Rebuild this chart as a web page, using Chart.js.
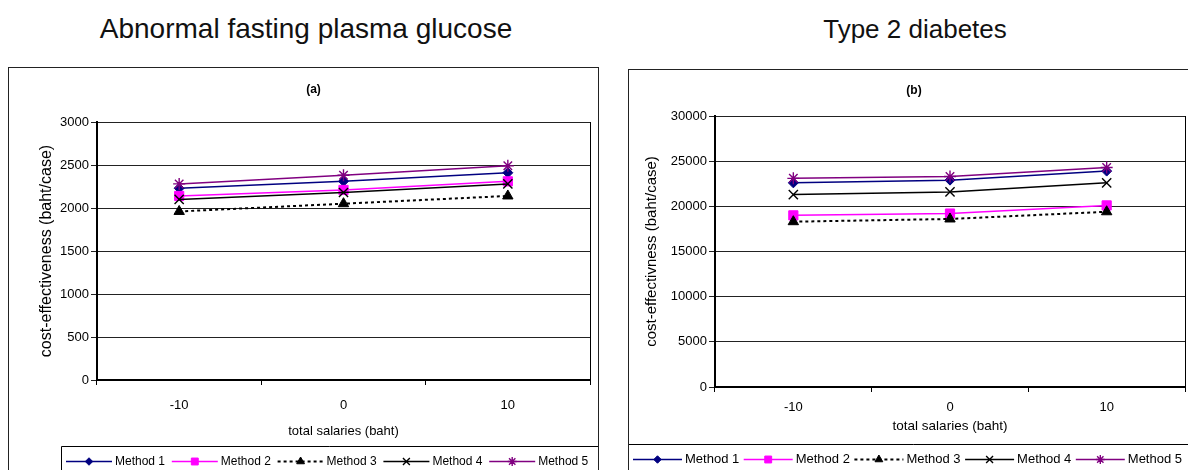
<!DOCTYPE html>
<html>
<head>
<meta charset="utf-8">
<script src="https://cdn.jsdelivr.net/npm/chart.js@4/dist/chart.umd.min.js"></script>
<style>
  html, body { margin: 0; padding: 0; background: #fff; overflow: hidden; width: 1188px; height: 470px; }
  body { position: relative; font-family: "Liberation Sans", Arial, sans-serif; }
  .heading { position: absolute; color: #111; white-space: nowrap; transform: translateX(-50%); }
  .panel { position: absolute; border: 1px solid #222; box-sizing: border-box; overflow: hidden; background: #fff; }
  .panel canvas { position: absolute; left: 0; top: 0; }
</style>
</head>
<body>
<div class="heading" style="left:306px;top:13px;font-size:28px;line-height:32px">Abnormal fasting plasma glucose</div>
<div class="heading" style="left:915px;top:14px;font-size:26px;line-height:30px">Type 2 diabetes</div>
<div class="panel" style="left:8px;top:67px;width:591px;height:420px"><canvas id="chartA" width="589" height="402"></canvas></div>
<div class="panel" style="left:628px;top:69px;width:572px;height:420px"><canvas id="chartB" width="570" height="400"></canvas></div>

<script>
// Change in total salaries (baht) – the three scenarios on the x axis
const salaryChange = ['-10', '0', '10'];
const methodNames = ['Method 1', 'Method 2', 'Method 3', 'Method 4', 'Method 5'];

// (a) Abnormal fasting plasma glucose, cost-effectiveness (baht/case)
const afpgMethod1 = [2230, 2310, 2410];
const afpgMethod2 = [2140, 2210, 2310];
const afpgMethod3 = [1960, 2050, 2140];
const afpgMethod4 = [2100, 2180, 2280];
const afpgMethod5 = [2280, 2380, 2490];

// (b) Type 2 diabetes, cost-effectiveness (baht/case)
const t2dMethod1 = [22600, 22900, 23900];
const t2dMethod2 = [19000, 19200, 20100];
const t2dMethod3 = [18300, 18600, 19400];
const t2dMethod4 = [21300, 21600, 22600];
const t2dMethod5 = [23100, 23300, 24300];

// Line / marker look for each method
const seriesStyle = [
  { color: '#000080', pointStyle: 'rectRot',  radius: 5,   width: 1.5, pointWidth: 1,   dash: [] },
  { color: '#FF00FF', pointStyle: 'rect',     radius: 6.5, width: 1.5, pointWidth: 1,   dash: [] },
  { color: '#000000', pointStyle: 'triangle', radius: 6,   width: 2,   pointWidth: 1,   dash: [3, 3] },
  { color: '#000000', pointStyle: 'crossRot', radius: 6.5, width: 1.5, pointWidth: 1.4, dash: [] },
  { color: '#800080', pointStyle: 'star',     radius: 6,   width: 1.5, pointWidth: 1.4, dash: [] }
];

Chart.defaults.font.family = '"Liberation Sans", Arial, sans-serif';
Chart.defaults.color = '#000';

function buildDatasets(seriesList) {
  return seriesList.map((values, i) => {
    const s = seriesStyle[i];
    return {
      label: methodNames[i],
      data: values,
      borderColor: s.color,
      backgroundColor: s.color,
      borderWidth: s.width,
      borderDash: s.dash,
      pointStyle: s.pointStyle,
      pointRadius: s.radius,
      pointHoverRadius: s.radius,
      pointBackgroundColor: s.color,
      pointBorderColor: s.color,
      pointBorderWidth: s.pointWidth,
      tension: 0,
      fill: false,
      order: seriesList.length - 1 - i
    };
  });
}

// Right-hand frame of the plot area
const plotFrame = {
  id: 'plotFrame',
  afterDraw(chart) {
    const { ctx, chartArea } = chart;
    ctx.save();
    ctx.strokeStyle = '#000';
    ctx.lineWidth = 1;
    ctx.beginPath();
    const x = Math.round(chartArea.right) + 0.5;
    ctx.moveTo(x, chartArea.top);
    ctx.lineTo(x, chartArea.bottom);
    ctx.stroke();
    ctx.restore();
  }
};

// Boxed legend with line + marker samples
const sampleLegend = {
  id: 'sampleLegend',
  afterDraw(chart, args, opts) {
    const ctx = chart.ctx;
    ctx.save();
    ctx.strokeStyle = '#000';
    ctx.lineWidth = 1;
    ctx.beginPath();
    ctx.moveTo(opts.boxLeft + 0.5, chart.height);
    ctx.lineTo(opts.boxLeft + 0.5, opts.boxTop + 0.5);
    ctx.lineTo(chart.width, opts.boxTop + 0.5);
    ctx.stroke();

    ctx.font = opts.fontSize + 'px "Liberation Sans", Arial, sans-serif';
    ctx.textBaseline = 'middle';
    ctx.textAlign = 'left';
    chart.data.datasets.forEach((ds, i) => {
      const x = opts.x0 + i * opts.step;
      const y = opts.y + 0.5;
      ctx.save();
      ctx.strokeStyle = ds.borderColor;
      ctx.lineWidth = ds.borderWidth;
      ctx.setLineDash(ds.borderDash || []);
      ctx.beginPath();
      ctx.moveTo(x, y);
      ctx.lineTo(x + opts.sample, y);
      ctx.stroke();
      ctx.setLineDash([]);
      ctx.fillStyle = ds.pointBackgroundColor;
      ctx.strokeStyle = ds.pointBorderColor;
      ctx.lineWidth = ds.pointBorderWidth;
      Chart.helpers.drawPoint(ctx, {
        pointStyle: ds.pointStyle,
        rotation: 0,
        radius: ds.pointRadius * 0.75,
        borderWidth: ds.pointBorderWidth
      }, x + opts.sample / 2, y);
      ctx.restore();
      ctx.fillStyle = '#000';
      ctx.fillText(ds.label, x + opts.sample + opts.gap, y);
    });
    ctx.restore();
  }
};

function makeChart(canvasId, cfg) {
  return new Chart(document.getElementById(canvasId), {
    type: 'line',
    data: { labels: salaryChange, datasets: buildDatasets(cfg.series) },
    plugins: [plotFrame, sampleLegend],
    options: {
      responsive: false,
      animation: false,
      devicePixelRatio: 1,
      layout: { padding: cfg.padding },
      plugins: {
        legend: { display: false },
        tooltip: { enabled: false },
        title: {
          display: true,
          text: cfg.panelTitle,
          color: '#000',
          font: { size: 12, weight: 'bold' },
          padding: cfg.titlePadding
        },
        sampleLegend: cfg.legend
      },
      scales: {
        x: {
          type: 'category',
          offset: true,
          grid: { offset: true, drawOnChartArea: false, drawTicks: true, tickLength: 5, color: '#000', lineWidth: 1 },
          border: { display: true, color: '#000', width: 2 },
          ticks: { font: { size: 13 }, color: '#000', padding: cfg.xTickPad, maxRotation: 0 },
          title: { display: true, text: 'total salaries (baht)', font: { size: cfg.xTitleSize }, color: '#000', padding: { top: 0, bottom: cfg.xTitlePad } },
          afterFit(scale) { scale.height = cfg.xHeight; }
        },
        y: {
          min: 0,
          max: cfg.yMax,
          ticks: { stepSize: cfg.yStep, font: { size: 13 }, color: '#000', padding: 2, callback: (v) => String(v) },
          grid: { color: '#222', lineWidth: 1, drawTicks: true, tickLength: 6 },
          border: { display: true, color: '#000', width: 2 },
          title: { display: true, text: cfg.yTitle, font: { size: cfg.yTitleSize }, color: '#000', padding: { top: 0, bottom: 0 } },
          afterFit(scale) { scale.width = cfg.yWidth; }
        }
      }
    }
  });
}

makeChart('chartA', {
  series: [afpgMethod1, afpgMethod2, afpgMethod3, afpgMethod4, afpgMethod5],
  panelTitle: '(a)',
  yTitle: 'cost-effectiveness (baht/case)',
  yTitleSize: 16,
  yMax: 3000,
  yStep: 500,
  padding: { left: 28, right: 8, top: 0, bottom: 29 },
  titlePadding: { top: 14.8, bottom: 24.8 },
  yWidth: 60,
  xHeight: 61,
  xTickPad: 13,
  xTitleSize: 13,
  xTitlePad: 2,
  legend: { boxLeft: 52, boxTop: 378, x0: 57, step: 105.8, sample: 46, gap: 3, y: 393, fontSize: 12 }
});

makeChart('chartB', {
  series: [t2dMethod1, t2dMethod2, t2dMethod3, t2dMethod4, t2dMethod5],
  panelTitle: '(b)',
  yTitle: 'cost-effectivness (baht/case)',
  yTitleSize: 15,
  yMax: 30000,
  yStep: 5000,
  padding: { left: 14, right: 14, top: 0, bottom: 36 },
  titlePadding: { top: 13.2, bottom: 18.4 },
  yWidth: 72,
  xHeight: 47,
  xTickPad: 8,
  xTitleSize: 13.5,
  xTitlePad: 0,
  legend: { boxLeft: -1, boxTop: 374, x0: 4, step: 110.7, sample: 49, gap: 3, y: 389, fontSize: 13 }
});
</script>
</body>
</html>
